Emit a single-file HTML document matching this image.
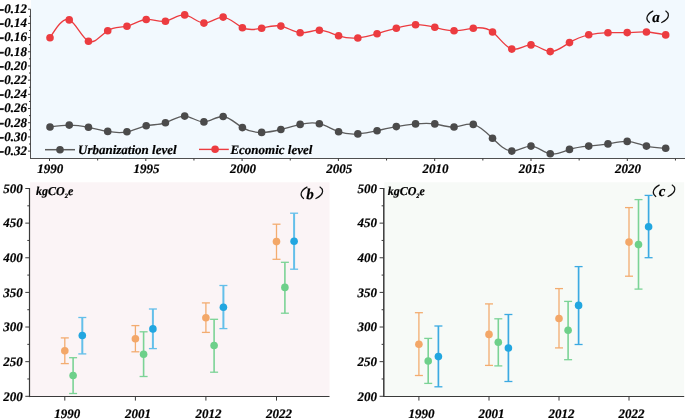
<!DOCTYPE html>
<html><head><meta charset="utf-8"><style>
html,body{margin:0;padding:0;background:#fff;}
body{width:685px;height:419px;overflow:hidden;}
svg{display:block;font-family:"Liberation Serif", serif;text-rendering:geometricPrecision;will-change:transform;}
text{stroke:#000;stroke-width:0.2px;}
</style></head><body>
<svg width="685" height="419" viewBox="0 0 685 419">
<rect width="685" height="419" fill="#fff"/>
<rect x="31" y="0" width="654" height="158" fill="#F2F9FE"/>
<path d="M50,37.7 C56.41,27.47 62.83,17.23 69.24,19.9 C75.65,22.57 82.07,38.14 88.48,41.2 C94.89,44.26 101.31,34.81 107.72,30.7 C114.13,26.59 120.55,27.84 126.96,26.2 C133.37,24.56 139.79,20.04 146.2,19.5 C152.61,18.96 159.03,22.39 165.44,21.2 C171.85,20.01 178.27,14.2 184.68,14.9 C191.09,15.6 197.51,22.8 203.92,23.1 C210.33,23.4 216.75,16.79 223.16,17.1 C229.57,17.41 235.99,24.63 242.4,27.7 C248.81,30.77 255.23,29.7 261.64,28.2 C268.05,26.7 274.47,24.77 280.88,26.1 C287.29,27.43 293.71,32.03 300.12,32.7 C306.53,33.37 312.95,30.11 319.36,30.2 C325.77,30.29 332.19,33.73 338.6,35.8 C345.01,37.87 351.43,38.57 357.84,38 C364.25,37.43 370.67,35.57 377.08,33.7 C383.49,31.83 389.91,29.94 396.32,28.2 C402.73,26.46 409.15,24.88 415.56,24.7 C421.97,24.52 428.39,25.75 434.8,27.3 C441.21,28.85 447.63,30.72 454.04,30.8 C460.45,30.88 466.87,29.16 473.28,28.2 C479.69,27.24 486.11,27.03 492.52,32 C498.93,36.97 505.35,47.13 511.76,49.1 C518.17,51.07 524.59,44.87 531,44.9 C537.41,44.93 543.83,51.2 550.24,51.6 C556.65,52 563.07,46.54 569.48,42.6 C575.89,38.66 582.31,36.26 588.72,34.8 C595.13,33.34 601.55,32.83 607.96,32.7 C614.37,32.57 620.79,32.82 627.2,32.6 C633.61,32.38 640.03,31.69 646.44,32 C652.85,32.31 659.27,33.6 665.68,34.9" fill="none" stroke="#EC3C40" stroke-width="1.3"/>
<path d="M50,127 C56.41,126.06 62.83,125.11 69.24,125.1 C75.65,125.09 82.07,126.01 88.48,127.3 C94.89,128.59 101.31,130.26 107.72,131.4 C114.13,132.54 120.55,133.14 126.96,131.8 C133.37,130.46 139.79,127.17 146.2,125.8 C152.61,124.43 159.03,124.97 165.44,122.8 C171.85,120.63 178.27,115.76 184.68,116.1 C191.09,116.44 197.51,122.01 203.92,121.9 C210.33,121.79 216.75,116.02 223.16,116.5 C229.57,116.98 235.99,123.72 242.4,127.6 C248.81,131.48 255.23,132.49 261.64,132.4 C268.05,132.31 274.47,131.11 280.88,129.5 C287.29,127.89 293.71,125.85 300.12,124.4 C306.53,122.95 312.95,122.08 319.36,123.7 C325.77,125.32 332.19,129.44 338.6,131.7 C345.01,133.96 351.43,134.36 357.84,133.9 C364.25,133.44 370.67,132.11 377.08,130.7 C383.49,129.29 389.91,127.79 396.32,126.6 C402.73,125.41 409.15,124.54 415.56,123.9 C421.97,123.26 428.39,122.84 434.8,123.9 C441.21,124.96 447.63,127.49 454.04,127 C460.45,126.51 466.87,123.02 473.28,124.4 C479.69,125.78 486.11,132.05 492.52,138.3 C498.93,144.55 505.35,150.78 511.76,151.1 C518.17,151.42 524.59,145.83 531,146.1 C537.41,146.37 543.83,152.52 550.24,153.8 C556.65,155.08 563.07,151.51 569.48,149.4 C575.89,147.29 582.31,146.66 588.72,146.1 C595.13,145.54 601.55,145.05 607.96,143.9 C614.37,142.75 620.79,140.94 627.2,141.4 C633.61,141.86 640.03,144.57 646.44,146.1 C652.85,147.63 659.27,147.96 665.68,148.3" fill="none" stroke="#5C5C5C" stroke-width="1.3"/>
<circle cx="50" cy="37.7" r="3.8" fill="#EC3C40"/>
<circle cx="69.24" cy="19.9" r="3.8" fill="#EC3C40"/>
<circle cx="88.48" cy="41.2" r="3.8" fill="#EC3C40"/>
<circle cx="107.72" cy="30.7" r="3.8" fill="#EC3C40"/>
<circle cx="126.96" cy="26.2" r="3.8" fill="#EC3C40"/>
<circle cx="146.2" cy="19.5" r="3.8" fill="#EC3C40"/>
<circle cx="165.44" cy="21.2" r="3.8" fill="#EC3C40"/>
<circle cx="184.68" cy="14.9" r="3.8" fill="#EC3C40"/>
<circle cx="203.92" cy="23.1" r="3.8" fill="#EC3C40"/>
<circle cx="223.16" cy="17.1" r="3.8" fill="#EC3C40"/>
<circle cx="242.4" cy="27.7" r="3.8" fill="#EC3C40"/>
<circle cx="261.64" cy="28.2" r="3.8" fill="#EC3C40"/>
<circle cx="280.88" cy="26.1" r="3.8" fill="#EC3C40"/>
<circle cx="300.12" cy="32.7" r="3.8" fill="#EC3C40"/>
<circle cx="319.36" cy="30.2" r="3.8" fill="#EC3C40"/>
<circle cx="338.6" cy="35.8" r="3.8" fill="#EC3C40"/>
<circle cx="357.84" cy="38" r="3.8" fill="#EC3C40"/>
<circle cx="377.08" cy="33.7" r="3.8" fill="#EC3C40"/>
<circle cx="396.32" cy="28.2" r="3.8" fill="#EC3C40"/>
<circle cx="415.56" cy="24.7" r="3.8" fill="#EC3C40"/>
<circle cx="434.8" cy="27.3" r="3.8" fill="#EC3C40"/>
<circle cx="454.04" cy="30.8" r="3.8" fill="#EC3C40"/>
<circle cx="473.28" cy="28.2" r="3.8" fill="#EC3C40"/>
<circle cx="492.52" cy="32" r="3.8" fill="#EC3C40"/>
<circle cx="511.76" cy="49.1" r="3.8" fill="#EC3C40"/>
<circle cx="531" cy="44.9" r="3.8" fill="#EC3C40"/>
<circle cx="550.24" cy="51.6" r="3.8" fill="#EC3C40"/>
<circle cx="569.48" cy="42.6" r="3.8" fill="#EC3C40"/>
<circle cx="588.72" cy="34.8" r="3.8" fill="#EC3C40"/>
<circle cx="607.96" cy="32.7" r="3.8" fill="#EC3C40"/>
<circle cx="627.2" cy="32.6" r="3.8" fill="#EC3C40"/>
<circle cx="646.44" cy="32" r="3.8" fill="#EC3C40"/>
<circle cx="665.68" cy="34.9" r="3.8" fill="#EC3C40"/>
<circle cx="50" cy="127" r="3.8" fill="#4B4B4B"/>
<circle cx="69.24" cy="125.1" r="3.8" fill="#4B4B4B"/>
<circle cx="88.48" cy="127.3" r="3.8" fill="#4B4B4B"/>
<circle cx="107.72" cy="131.4" r="3.8" fill="#4B4B4B"/>
<circle cx="126.96" cy="131.8" r="3.8" fill="#4B4B4B"/>
<circle cx="146.2" cy="125.8" r="3.8" fill="#4B4B4B"/>
<circle cx="165.44" cy="122.8" r="3.8" fill="#4B4B4B"/>
<circle cx="184.68" cy="116.1" r="3.8" fill="#4B4B4B"/>
<circle cx="203.92" cy="121.9" r="3.8" fill="#4B4B4B"/>
<circle cx="223.16" cy="116.5" r="3.8" fill="#4B4B4B"/>
<circle cx="242.4" cy="127.6" r="3.8" fill="#4B4B4B"/>
<circle cx="261.64" cy="132.4" r="3.8" fill="#4B4B4B"/>
<circle cx="280.88" cy="129.5" r="3.8" fill="#4B4B4B"/>
<circle cx="300.12" cy="124.4" r="3.8" fill="#4B4B4B"/>
<circle cx="319.36" cy="123.7" r="3.8" fill="#4B4B4B"/>
<circle cx="338.6" cy="131.7" r="3.8" fill="#4B4B4B"/>
<circle cx="357.84" cy="133.9" r="3.8" fill="#4B4B4B"/>
<circle cx="377.08" cy="130.7" r="3.8" fill="#4B4B4B"/>
<circle cx="396.32" cy="126.6" r="3.8" fill="#4B4B4B"/>
<circle cx="415.56" cy="123.9" r="3.8" fill="#4B4B4B"/>
<circle cx="434.8" cy="123.9" r="3.8" fill="#4B4B4B"/>
<circle cx="454.04" cy="127" r="3.8" fill="#4B4B4B"/>
<circle cx="473.28" cy="124.4" r="3.8" fill="#4B4B4B"/>
<circle cx="492.52" cy="138.3" r="3.8" fill="#4B4B4B"/>
<circle cx="511.76" cy="151.1" r="3.8" fill="#4B4B4B"/>
<circle cx="531" cy="146.1" r="3.8" fill="#4B4B4B"/>
<circle cx="550.24" cy="153.8" r="3.8" fill="#4B4B4B"/>
<circle cx="569.48" cy="149.4" r="3.8" fill="#4B4B4B"/>
<circle cx="588.72" cy="146.1" r="3.8" fill="#4B4B4B"/>
<circle cx="607.96" cy="143.9" r="3.8" fill="#4B4B4B"/>
<circle cx="627.2" cy="141.4" r="3.8" fill="#4B4B4B"/>
<circle cx="646.44" cy="146.1" r="3.8" fill="#4B4B4B"/>
<circle cx="665.68" cy="148.3" r="3.8" fill="#4B4B4B"/>
<line x1="30.5" y1="9.2" x2="30.5" y2="159" stroke="#505050" stroke-width="1"/>
<line x1="30" y1="158.5" x2="685" y2="158.5" stroke="#505050" stroke-width="1"/>
<line x1="28" y1="9.2" x2="30.5" y2="9.2" stroke="#3a3a3a" stroke-width="1"/>
<text x="26.9" y="13.1" font-size="13" text-anchor="end" font-weight="bold" font-style="italic" fill="#000">-0.12</text>
<rect x="0" y="9.25" width="3.6" height="1.5" fill="#1a1a1a"/>
<line x1="29" y1="16.29" x2="30.5" y2="16.29" stroke="#3a3a3a" stroke-width="1"/>
<line x1="28" y1="23.39" x2="30.5" y2="23.39" stroke="#3a3a3a" stroke-width="1"/>
<text x="26.9" y="27.29" font-size="13" text-anchor="end" font-weight="bold" font-style="italic" fill="#000">-0.14</text>
<rect x="0" y="23.44" width="3.6" height="1.5" fill="#1a1a1a"/>
<line x1="29" y1="30.48" x2="30.5" y2="30.48" stroke="#3a3a3a" stroke-width="1"/>
<line x1="28" y1="37.58" x2="30.5" y2="37.58" stroke="#3a3a3a" stroke-width="1"/>
<text x="26.9" y="41.48" font-size="13" text-anchor="end" font-weight="bold" font-style="italic" fill="#000">-0.16</text>
<rect x="0" y="37.63" width="3.6" height="1.5" fill="#1a1a1a"/>
<line x1="29" y1="44.67" x2="30.5" y2="44.67" stroke="#3a3a3a" stroke-width="1"/>
<line x1="28" y1="51.77" x2="30.5" y2="51.77" stroke="#3a3a3a" stroke-width="1"/>
<text x="26.9" y="55.67" font-size="13" text-anchor="end" font-weight="bold" font-style="italic" fill="#000">-0.18</text>
<rect x="0" y="51.82" width="3.6" height="1.5" fill="#1a1a1a"/>
<line x1="29" y1="58.86" x2="30.5" y2="58.86" stroke="#3a3a3a" stroke-width="1"/>
<line x1="28" y1="65.96" x2="30.5" y2="65.96" stroke="#3a3a3a" stroke-width="1"/>
<text x="26.9" y="69.86" font-size="13" text-anchor="end" font-weight="bold" font-style="italic" fill="#000">-0.20</text>
<rect x="0" y="66.01" width="3.6" height="1.5" fill="#1a1a1a"/>
<line x1="29" y1="73.05" x2="30.5" y2="73.05" stroke="#3a3a3a" stroke-width="1"/>
<line x1="28" y1="80.15" x2="30.5" y2="80.15" stroke="#3a3a3a" stroke-width="1"/>
<text x="26.9" y="84.05" font-size="13" text-anchor="end" font-weight="bold" font-style="italic" fill="#000">-0.22</text>
<rect x="0" y="80.2" width="3.6" height="1.5" fill="#1a1a1a"/>
<line x1="29" y1="87.25" x2="30.5" y2="87.25" stroke="#3a3a3a" stroke-width="1"/>
<line x1="28" y1="94.34" x2="30.5" y2="94.34" stroke="#3a3a3a" stroke-width="1"/>
<text x="26.9" y="98.24" font-size="13" text-anchor="end" font-weight="bold" font-style="italic" fill="#000">-0.24</text>
<rect x="0" y="94.39" width="3.6" height="1.5" fill="#1a1a1a"/>
<line x1="29" y1="101.44" x2="30.5" y2="101.44" stroke="#3a3a3a" stroke-width="1"/>
<line x1="28" y1="108.53" x2="30.5" y2="108.53" stroke="#3a3a3a" stroke-width="1"/>
<text x="26.9" y="112.43" font-size="13" text-anchor="end" font-weight="bold" font-style="italic" fill="#000">-0.26</text>
<rect x="0" y="108.58" width="3.6" height="1.5" fill="#1a1a1a"/>
<line x1="29" y1="115.62" x2="30.5" y2="115.62" stroke="#3a3a3a" stroke-width="1"/>
<line x1="28" y1="122.72" x2="30.5" y2="122.72" stroke="#3a3a3a" stroke-width="1"/>
<text x="26.9" y="126.62" font-size="13" text-anchor="end" font-weight="bold" font-style="italic" fill="#000">-0.28</text>
<rect x="0" y="122.77" width="3.6" height="1.5" fill="#1a1a1a"/>
<line x1="29" y1="129.81" x2="30.5" y2="129.81" stroke="#3a3a3a" stroke-width="1"/>
<line x1="28" y1="136.91" x2="30.5" y2="136.91" stroke="#3a3a3a" stroke-width="1"/>
<text x="26.9" y="140.81" font-size="13" text-anchor="end" font-weight="bold" font-style="italic" fill="#000">-0.30</text>
<rect x="0" y="136.96" width="3.6" height="1.5" fill="#1a1a1a"/>
<line x1="29" y1="144" x2="30.5" y2="144" stroke="#3a3a3a" stroke-width="1"/>
<line x1="28" y1="151.1" x2="30.5" y2="151.1" stroke="#3a3a3a" stroke-width="1"/>
<text x="26.9" y="155" font-size="13" text-anchor="end" font-weight="bold" font-style="italic" fill="#000">-0.32</text>
<rect x="0" y="151.15" width="3.6" height="1.5" fill="#1a1a1a"/>
<line x1="49.5" y1="158.5" x2="49.5" y2="161" stroke="#3a3a3a" stroke-width="1"/>
<text x="50.3" y="172.6" font-size="13" text-anchor="middle" font-weight="bold" font-style="italic" fill="#000">1990</text>
<line x1="97.65" y1="158.5" x2="97.65" y2="160.5" stroke="#3a3a3a" stroke-width="1"/>
<line x1="145.8" y1="158.5" x2="145.8" y2="161" stroke="#3a3a3a" stroke-width="1"/>
<text x="146.6" y="172.6" font-size="13" text-anchor="middle" font-weight="bold" font-style="italic" fill="#000">1995</text>
<line x1="193.95" y1="158.5" x2="193.95" y2="160.5" stroke="#3a3a3a" stroke-width="1"/>
<line x1="242.1" y1="158.5" x2="242.1" y2="161" stroke="#3a3a3a" stroke-width="1"/>
<text x="242.9" y="172.6" font-size="13" text-anchor="middle" font-weight="bold" font-style="italic" fill="#000">2000</text>
<line x1="290.25" y1="158.5" x2="290.25" y2="160.5" stroke="#3a3a3a" stroke-width="1"/>
<line x1="338.4" y1="158.5" x2="338.4" y2="161" stroke="#3a3a3a" stroke-width="1"/>
<text x="339.2" y="172.6" font-size="13" text-anchor="middle" font-weight="bold" font-style="italic" fill="#000">2005</text>
<line x1="386.55" y1="158.5" x2="386.55" y2="160.5" stroke="#3a3a3a" stroke-width="1"/>
<line x1="434.7" y1="158.5" x2="434.7" y2="161" stroke="#3a3a3a" stroke-width="1"/>
<text x="435.5" y="172.6" font-size="13" text-anchor="middle" font-weight="bold" font-style="italic" fill="#000">2010</text>
<line x1="482.85" y1="158.5" x2="482.85" y2="160.5" stroke="#3a3a3a" stroke-width="1"/>
<line x1="531" y1="158.5" x2="531" y2="161" stroke="#3a3a3a" stroke-width="1"/>
<text x="531.8" y="172.6" font-size="13" text-anchor="middle" font-weight="bold" font-style="italic" fill="#000">2015</text>
<line x1="579.15" y1="158.5" x2="579.15" y2="160.5" stroke="#3a3a3a" stroke-width="1"/>
<line x1="627.3" y1="158.5" x2="627.3" y2="161" stroke="#3a3a3a" stroke-width="1"/>
<text x="628.1" y="172.6" font-size="13" text-anchor="middle" font-weight="bold" font-style="italic" fill="#000">2020</text>
<line x1="675.45" y1="158.5" x2="675.45" y2="160.5" stroke="#3a3a3a" stroke-width="1"/>
<line x1="45" y1="149.7" x2="75" y2="149.7" stroke="#5C5C5C" stroke-width="1.5"/>
<circle cx="60" cy="149.7" r="3.8" fill="#4B4B4B"/>
<text x="78" y="153.8" font-size="13" text-anchor="start" font-weight="bold" font-style="italic" fill="#000">Urbanization level</text>
<line x1="199" y1="149.4" x2="228.8" y2="149.4" stroke="#EC3C40" stroke-width="1.4"/>
<circle cx="215.1" cy="149.3" r="3.8" fill="#EC3C40"/>
<text x="230.4" y="153.6" font-size="13" text-anchor="start" font-weight="bold" font-style="italic" fill="#000">Economic level</text>
<path d="M652.8,11.1 c-3,1.6 -5.6,4 -5.9,6.7 c-0.2,1.9 1.1,3.7 2.5,4.7" fill="none" stroke="#111" stroke-width="1.2" stroke-linecap="round"/>
<path d="M665.8,11.1 c1.6,1 2.7,2.6 2.6,4.3 c-0.2,2.7 -3.4,5.5 -6.7,7.1" fill="none" stroke="#111" stroke-width="1.2" stroke-linecap="round"/>
<text x="652.3" y="22.2" font-size="15" text-anchor="start" font-weight="bold" font-style="italic" fill="#000">a</text>
<rect x="30" y="182.3" width="299.5" height="214.2" fill="#FBF4F6"/>
<line x1="64.8" y1="337.9" x2="64.8" y2="363.6" stroke="#F3AC70" stroke-width="1.3"/>
<line x1="60.8" y1="337.9" x2="68.8" y2="337.9" stroke="#F3AC70" stroke-width="1.3"/>
<line x1="60.8" y1="363.6" x2="68.8" y2="363.6" stroke="#F3AC70" stroke-width="1.3"/>
<circle cx="64.8" cy="350.7" r="3.8" fill="#F3A768"/>
<line x1="73.1" y1="357.7" x2="73.1" y2="393.5" stroke="#7BD396" stroke-width="1.6"/>
<line x1="69.1" y1="357.7" x2="77.1" y2="357.7" stroke="#7BD396" stroke-width="1.3"/>
<line x1="69.1" y1="393.5" x2="77.1" y2="393.5" stroke="#7BD396" stroke-width="1.3"/>
<circle cx="73.1" cy="375.5" r="3.8" fill="#6DD08A"/>
<line x1="82.3" y1="317.5" x2="82.3" y2="353.9" stroke="#63BFEA" stroke-width="2"/>
<line x1="78.3" y1="317.5" x2="86.3" y2="317.5" stroke="#63BFEA" stroke-width="1.3"/>
<line x1="78.3" y1="353.9" x2="86.3" y2="353.9" stroke="#63BFEA" stroke-width="1.3"/>
<circle cx="82.3" cy="335.5" r="3.8" fill="#22A6E0"/>
<line x1="135.4" y1="325.6" x2="135.4" y2="351.8" stroke="#F3AC70" stroke-width="1.3"/>
<line x1="131.4" y1="325.6" x2="139.4" y2="325.6" stroke="#F3AC70" stroke-width="1.3"/>
<line x1="131.4" y1="351.8" x2="139.4" y2="351.8" stroke="#F3AC70" stroke-width="1.3"/>
<circle cx="135.4" cy="338.8" r="3.8" fill="#F3A768"/>
<line x1="143.6" y1="331.8" x2="143.6" y2="376.5" stroke="#7BD396" stroke-width="1.6"/>
<line x1="139.6" y1="331.8" x2="147.6" y2="331.8" stroke="#7BD396" stroke-width="1.3"/>
<line x1="139.6" y1="376.5" x2="147.6" y2="376.5" stroke="#7BD396" stroke-width="1.3"/>
<circle cx="143.6" cy="354.3" r="3.8" fill="#6DD08A"/>
<line x1="152.9" y1="309" x2="152.9" y2="348.6" stroke="#63BFEA" stroke-width="2"/>
<line x1="148.9" y1="309" x2="156.9" y2="309" stroke="#63BFEA" stroke-width="1.3"/>
<line x1="148.9" y1="348.6" x2="156.9" y2="348.6" stroke="#63BFEA" stroke-width="1.3"/>
<circle cx="152.9" cy="328.9" r="3.8" fill="#22A6E0"/>
<line x1="205.9" y1="302.9" x2="205.9" y2="332.4" stroke="#F3AC70" stroke-width="1.3"/>
<line x1="201.9" y1="302.9" x2="209.9" y2="302.9" stroke="#F3AC70" stroke-width="1.3"/>
<line x1="201.9" y1="332.4" x2="209.9" y2="332.4" stroke="#F3AC70" stroke-width="1.3"/>
<circle cx="205.9" cy="317.7" r="3.8" fill="#F3A768"/>
<line x1="214.1" y1="319.3" x2="214.1" y2="372.2" stroke="#7BD396" stroke-width="1.6"/>
<line x1="210.1" y1="319.3" x2="218.1" y2="319.3" stroke="#7BD396" stroke-width="1.3"/>
<line x1="210.1" y1="372.2" x2="218.1" y2="372.2" stroke="#7BD396" stroke-width="1.3"/>
<circle cx="214.1" cy="345.5" r="3.8" fill="#6DD08A"/>
<line x1="223.4" y1="285.5" x2="223.4" y2="328.6" stroke="#63BFEA" stroke-width="2"/>
<line x1="219.4" y1="285.5" x2="227.4" y2="285.5" stroke="#63BFEA" stroke-width="1.3"/>
<line x1="219.4" y1="328.6" x2="227.4" y2="328.6" stroke="#63BFEA" stroke-width="1.3"/>
<circle cx="223.4" cy="307.2" r="3.8" fill="#22A6E0"/>
<line x1="276.5" y1="224.2" x2="276.5" y2="259.3" stroke="#F3AC70" stroke-width="1.3"/>
<line x1="272.5" y1="224.2" x2="280.5" y2="224.2" stroke="#F3AC70" stroke-width="1.3"/>
<line x1="272.5" y1="259.3" x2="280.5" y2="259.3" stroke="#F3AC70" stroke-width="1.3"/>
<circle cx="276.5" cy="241.6" r="3.8" fill="#F3A768"/>
<line x1="284.9" y1="262.3" x2="284.9" y2="313.2" stroke="#7BD396" stroke-width="1.6"/>
<line x1="280.9" y1="262.3" x2="288.9" y2="262.3" stroke="#7BD396" stroke-width="1.3"/>
<line x1="280.9" y1="313.2" x2="288.9" y2="313.2" stroke="#7BD396" stroke-width="1.3"/>
<circle cx="284.9" cy="287.4" r="3.8" fill="#6DD08A"/>
<line x1="294.1" y1="213.2" x2="294.1" y2="269.2" stroke="#63BFEA" stroke-width="2"/>
<line x1="290.1" y1="213.2" x2="298.1" y2="213.2" stroke="#63BFEA" stroke-width="1.3"/>
<line x1="290.1" y1="269.2" x2="298.1" y2="269.2" stroke="#63BFEA" stroke-width="1.3"/>
<circle cx="294.1" cy="241.2" r="3.8" fill="#22A6E0"/>
<line x1="29.5" y1="188" x2="29.5" y2="397.1" stroke="#3a3a3a" stroke-width="1.2"/>
<line x1="28.9" y1="396.5" x2="329.5" y2="396.5" stroke="#3a3a3a" stroke-width="1.1"/>
<line x1="25.3" y1="188.5" x2="29.5" y2="188.5" stroke="#3a3a3a" stroke-width="1"/>
<text x="22.7" y="192.7" font-size="13" text-anchor="end" font-weight="bold" font-style="italic" fill="#000">500</text>
<line x1="27.3" y1="205.82" x2="29.5" y2="205.82" stroke="#3a3a3a" stroke-width="1"/>
<line x1="25.3" y1="223.13" x2="29.5" y2="223.13" stroke="#3a3a3a" stroke-width="1"/>
<text x="22.7" y="227.33" font-size="13" text-anchor="end" font-weight="bold" font-style="italic" fill="#000">450</text>
<line x1="27.3" y1="240.45" x2="29.5" y2="240.45" stroke="#3a3a3a" stroke-width="1"/>
<line x1="25.3" y1="257.77" x2="29.5" y2="257.77" stroke="#3a3a3a" stroke-width="1"/>
<text x="22.7" y="261.97" font-size="13" text-anchor="end" font-weight="bold" font-style="italic" fill="#000">400</text>
<line x1="27.3" y1="275.08" x2="29.5" y2="275.08" stroke="#3a3a3a" stroke-width="1"/>
<line x1="25.3" y1="292.4" x2="29.5" y2="292.4" stroke="#3a3a3a" stroke-width="1"/>
<text x="22.7" y="296.6" font-size="13" text-anchor="end" font-weight="bold" font-style="italic" fill="#000">350</text>
<line x1="27.3" y1="309.72" x2="29.5" y2="309.72" stroke="#3a3a3a" stroke-width="1"/>
<line x1="25.3" y1="327.03" x2="29.5" y2="327.03" stroke="#3a3a3a" stroke-width="1"/>
<text x="22.7" y="331.23" font-size="13" text-anchor="end" font-weight="bold" font-style="italic" fill="#000">300</text>
<line x1="27.3" y1="344.35" x2="29.5" y2="344.35" stroke="#3a3a3a" stroke-width="1"/>
<line x1="25.3" y1="361.67" x2="29.5" y2="361.67" stroke="#3a3a3a" stroke-width="1"/>
<text x="22.7" y="365.87" font-size="13" text-anchor="end" font-weight="bold" font-style="italic" fill="#000">250</text>
<line x1="27.3" y1="378.98" x2="29.5" y2="378.98" stroke="#3a3a3a" stroke-width="1"/>
<line x1="25.3" y1="396.3" x2="29.5" y2="396.3" stroke="#3a3a3a" stroke-width="1"/>
<text x="22.7" y="400.5" font-size="13" text-anchor="end" font-weight="bold" font-style="italic" fill="#000">200</text>
<line x1="64.8" y1="396.5" x2="64.8" y2="400.6" stroke="#3a3a3a" stroke-width="1"/>
<text x="67.3" y="417.8" font-size="13" text-anchor="middle" font-weight="bold" font-style="italic" fill="#000">1990</text>
<line x1="135.4" y1="396.5" x2="135.4" y2="400.6" stroke="#3a3a3a" stroke-width="1"/>
<text x="137.9" y="417.8" font-size="13" text-anchor="middle" font-weight="bold" font-style="italic" fill="#000">2001</text>
<line x1="205.9" y1="396.5" x2="205.9" y2="400.6" stroke="#3a3a3a" stroke-width="1"/>
<text x="208.4" y="417.8" font-size="13" text-anchor="middle" font-weight="bold" font-style="italic" fill="#000">2012</text>
<line x1="276.5" y1="396.5" x2="276.5" y2="400.6" stroke="#3a3a3a" stroke-width="1"/>
<text x="279" y="417.8" font-size="13" text-anchor="middle" font-weight="bold" font-style="italic" fill="#000">2022</text>
<text x="36" y="194.5" font-size="12" font-weight="bold" font-style="italic">kgCO<tspan font-size="6.5" dy="3">2</tspan><tspan dy="-3">e</tspan></text>
<path d="M307,187.1 c-3,1.6 -5.6,4 -5.9,6.7 c-0.2,1.9 1.1,3.7 2.5,4.7" fill="none" stroke="#111" stroke-width="1.2" stroke-linecap="round"/>
<path d="M320,187.1 c1.6,1 2.7,2.6 2.6,4.3 c-0.2,2.7 -3.4,5.5 -6.7,7.1" fill="none" stroke="#111" stroke-width="1.2" stroke-linecap="round"/>
<text x="306.3" y="198.7" font-size="15" text-anchor="start" font-weight="bold" font-style="italic" fill="#000">b</text>
<rect x="384.3" y="182.3" width="299.9" height="214.2" fill="#F7FAF7"/>
<line x1="418.9" y1="312.7" x2="418.9" y2="375.5" stroke="#F3AC70" stroke-width="1.3"/>
<line x1="414.9" y1="312.7" x2="422.9" y2="312.7" stroke="#F3AC70" stroke-width="1.3"/>
<line x1="414.9" y1="375.5" x2="422.9" y2="375.5" stroke="#F3AC70" stroke-width="1.3"/>
<circle cx="418.9" cy="344.2" r="3.8" fill="#F3A768"/>
<line x1="428.2" y1="338.4" x2="428.2" y2="383.4" stroke="#7BD396" stroke-width="1.6"/>
<line x1="424.2" y1="338.4" x2="432.2" y2="338.4" stroke="#7BD396" stroke-width="1.3"/>
<line x1="424.2" y1="383.4" x2="432.2" y2="383.4" stroke="#7BD396" stroke-width="1.3"/>
<circle cx="428.2" cy="361" r="3.8" fill="#6DD08A"/>
<line x1="438.4" y1="326" x2="438.4" y2="386.8" stroke="#3CAAE2" stroke-width="1.7"/>
<line x1="434.4" y1="326" x2="442.4" y2="326" stroke="#3CAAE2" stroke-width="1.3"/>
<line x1="434.4" y1="386.8" x2="442.4" y2="386.8" stroke="#3CAAE2" stroke-width="1.3"/>
<circle cx="438.4" cy="356.6" r="3.8" fill="#22A6E0"/>
<line x1="489" y1="303.9" x2="489" y2="365.4" stroke="#F3AC70" stroke-width="1.3"/>
<line x1="485" y1="303.9" x2="493" y2="303.9" stroke="#F3AC70" stroke-width="1.3"/>
<line x1="485" y1="365.4" x2="493" y2="365.4" stroke="#F3AC70" stroke-width="1.3"/>
<circle cx="489" cy="334.4" r="3.8" fill="#F3A768"/>
<line x1="498.3" y1="318.8" x2="498.3" y2="365.9" stroke="#7BD396" stroke-width="1.6"/>
<line x1="494.3" y1="318.8" x2="502.3" y2="318.8" stroke="#7BD396" stroke-width="1.3"/>
<line x1="494.3" y1="365.9" x2="502.3" y2="365.9" stroke="#7BD396" stroke-width="1.3"/>
<circle cx="498.3" cy="342.3" r="3.8" fill="#6DD08A"/>
<line x1="508.4" y1="314.5" x2="508.4" y2="381.5" stroke="#3CAAE2" stroke-width="1.7"/>
<line x1="504.4" y1="314.5" x2="512.4" y2="314.5" stroke="#3CAAE2" stroke-width="1.3"/>
<line x1="504.4" y1="381.5" x2="512.4" y2="381.5" stroke="#3CAAE2" stroke-width="1.3"/>
<circle cx="508.4" cy="348" r="3.8" fill="#22A6E0"/>
<line x1="559" y1="288.6" x2="559" y2="347.9" stroke="#F3AC70" stroke-width="1.3"/>
<line x1="555" y1="288.6" x2="563" y2="288.6" stroke="#F3AC70" stroke-width="1.3"/>
<line x1="555" y1="347.9" x2="563" y2="347.9" stroke="#F3AC70" stroke-width="1.3"/>
<circle cx="559" cy="318.5" r="3.8" fill="#F3A768"/>
<line x1="568.1" y1="301.4" x2="568.1" y2="359.7" stroke="#7BD396" stroke-width="1.6"/>
<line x1="564.1" y1="301.4" x2="572.1" y2="301.4" stroke="#7BD396" stroke-width="1.3"/>
<line x1="564.1" y1="359.7" x2="572.1" y2="359.7" stroke="#7BD396" stroke-width="1.3"/>
<circle cx="568.1" cy="330.3" r="3.8" fill="#6DD08A"/>
<line x1="578.6" y1="266.6" x2="578.6" y2="344.5" stroke="#3CAAE2" stroke-width="1.7"/>
<line x1="574.6" y1="266.6" x2="582.6" y2="266.6" stroke="#3CAAE2" stroke-width="1.3"/>
<line x1="574.6" y1="344.5" x2="582.6" y2="344.5" stroke="#3CAAE2" stroke-width="1.3"/>
<circle cx="578.6" cy="305.4" r="3.8" fill="#22A6E0"/>
<line x1="629" y1="207.6" x2="629" y2="276.2" stroke="#F3AC70" stroke-width="1.3"/>
<line x1="625" y1="207.6" x2="633" y2="207.6" stroke="#F3AC70" stroke-width="1.3"/>
<line x1="625" y1="276.2" x2="633" y2="276.2" stroke="#F3AC70" stroke-width="1.3"/>
<circle cx="629" cy="242.1" r="3.8" fill="#F3A768"/>
<line x1="638.5" y1="199.6" x2="638.5" y2="289.1" stroke="#7BD396" stroke-width="1.6"/>
<line x1="634.5" y1="199.6" x2="642.5" y2="199.6" stroke="#7BD396" stroke-width="1.3"/>
<line x1="634.5" y1="289.1" x2="642.5" y2="289.1" stroke="#7BD396" stroke-width="1.3"/>
<circle cx="638.5" cy="244.6" r="3.8" fill="#6DD08A"/>
<line x1="648.6" y1="195.4" x2="648.6" y2="257.7" stroke="#3CAAE2" stroke-width="1.7"/>
<line x1="644.6" y1="195.4" x2="652.6" y2="195.4" stroke="#3CAAE2" stroke-width="1.3"/>
<line x1="644.6" y1="257.7" x2="652.6" y2="257.7" stroke="#3CAAE2" stroke-width="1.3"/>
<circle cx="648.6" cy="226.7" r="3.8" fill="#22A6E0"/>
<line x1="383.8" y1="188" x2="383.8" y2="397.1" stroke="#3a3a3a" stroke-width="1.5"/>
<line x1="383.2" y1="396.5" x2="684.2" y2="396.5" stroke="#3a3a3a" stroke-width="1.1"/>
<line x1="379.6" y1="188.5" x2="383.8" y2="188.5" stroke="#3a3a3a" stroke-width="1"/>
<text x="377" y="192.7" font-size="13" text-anchor="end" font-weight="bold" font-style="italic" fill="#000">500</text>
<line x1="381.6" y1="205.82" x2="383.8" y2="205.82" stroke="#3a3a3a" stroke-width="1"/>
<line x1="379.6" y1="223.13" x2="383.8" y2="223.13" stroke="#3a3a3a" stroke-width="1"/>
<text x="377" y="227.33" font-size="13" text-anchor="end" font-weight="bold" font-style="italic" fill="#000">450</text>
<line x1="381.6" y1="240.45" x2="383.8" y2="240.45" stroke="#3a3a3a" stroke-width="1"/>
<line x1="379.6" y1="257.77" x2="383.8" y2="257.77" stroke="#3a3a3a" stroke-width="1"/>
<text x="377" y="261.97" font-size="13" text-anchor="end" font-weight="bold" font-style="italic" fill="#000">400</text>
<line x1="381.6" y1="275.08" x2="383.8" y2="275.08" stroke="#3a3a3a" stroke-width="1"/>
<line x1="379.6" y1="292.4" x2="383.8" y2="292.4" stroke="#3a3a3a" stroke-width="1"/>
<text x="377" y="296.6" font-size="13" text-anchor="end" font-weight="bold" font-style="italic" fill="#000">350</text>
<line x1="381.6" y1="309.72" x2="383.8" y2="309.72" stroke="#3a3a3a" stroke-width="1"/>
<line x1="379.6" y1="327.03" x2="383.8" y2="327.03" stroke="#3a3a3a" stroke-width="1"/>
<text x="377" y="331.23" font-size="13" text-anchor="end" font-weight="bold" font-style="italic" fill="#000">300</text>
<line x1="381.6" y1="344.35" x2="383.8" y2="344.35" stroke="#3a3a3a" stroke-width="1"/>
<line x1="379.6" y1="361.67" x2="383.8" y2="361.67" stroke="#3a3a3a" stroke-width="1"/>
<text x="377" y="365.87" font-size="13" text-anchor="end" font-weight="bold" font-style="italic" fill="#000">250</text>
<line x1="381.6" y1="378.98" x2="383.8" y2="378.98" stroke="#3a3a3a" stroke-width="1"/>
<line x1="379.6" y1="396.3" x2="383.8" y2="396.3" stroke="#3a3a3a" stroke-width="1"/>
<text x="377" y="400.5" font-size="13" text-anchor="end" font-weight="bold" font-style="italic" fill="#000">200</text>
<line x1="418.9" y1="396.5" x2="418.9" y2="400.6" stroke="#3a3a3a" stroke-width="1"/>
<text x="421.4" y="417.8" font-size="13" text-anchor="middle" font-weight="bold" font-style="italic" fill="#000">1990</text>
<line x1="489" y1="396.5" x2="489" y2="400.6" stroke="#3a3a3a" stroke-width="1"/>
<text x="491.5" y="417.8" font-size="13" text-anchor="middle" font-weight="bold" font-style="italic" fill="#000">2001</text>
<line x1="559" y1="396.5" x2="559" y2="400.6" stroke="#3a3a3a" stroke-width="1"/>
<text x="561.5" y="417.8" font-size="13" text-anchor="middle" font-weight="bold" font-style="italic" fill="#000">2012</text>
<line x1="629" y1="396.5" x2="629" y2="400.6" stroke="#3a3a3a" stroke-width="1"/>
<text x="631.5" y="417.8" font-size="13" text-anchor="middle" font-weight="bold" font-style="italic" fill="#000">2022</text>
<text x="387.7" y="194.5" font-size="12" font-weight="bold" font-style="italic">kgCO<tspan font-size="6.5" dy="3">2</tspan><tspan dy="-3">e</tspan></text>
<path d="M659.2,185.1 c-3,1.6 -5.6,4 -5.9,6.7 c-0.2,1.9 1.1,3.7 2.5,4.7" fill="none" stroke="#111" stroke-width="1.2" stroke-linecap="round"/>
<path d="M672.2,185.1 c1.6,1 2.7,2.6 2.6,4.3 c-0.2,2.7 -3.4,5.5 -6.7,7.1" fill="none" stroke="#111" stroke-width="1.2" stroke-linecap="round"/>
<text x="658.7" y="196" font-size="15" text-anchor="start" font-weight="bold" font-style="italic" fill="#000">c</text>
</svg>
</body></html>
